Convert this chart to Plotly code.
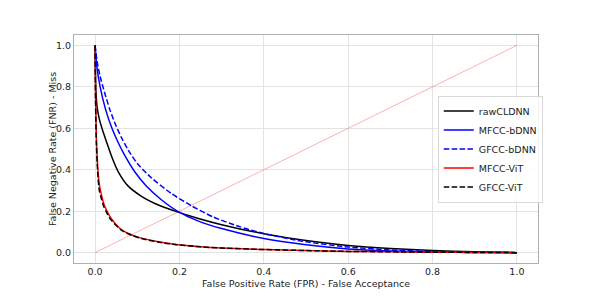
import plotly.graph_objects as go

# ---- data ----
raw_fpr = [0, 0.001, 0.002, 0.005, 0.010, 0.017, 0.027, 0.039, 0.055, 0.078, 0.11,
           0.15, 0.193, 0.245, 0.30, 0.40, 0.50, 0.60, 0.70, 0.80, 0.90, 1.0]
raw_fnr = [1.0, 0.86, 0.78, 0.70, 0.645, 0.595, 0.535, 0.465, 0.39, 0.322, 0.272,
           0.230, 0.198, 0.165, 0.135, 0.091, 0.058, 0.035, 0.020, 0.010, 0.004, 0.0]

mfcc_bdnn_fpr = [0, 0.004, 0.012, 0.025, 0.04, 0.055, 0.07, 0.094, 0.122, 0.157, 0.193,
                 0.245, 0.30, 0.40, 0.50, 0.60, 0.70, 0.80, 0.90, 1.0]
mfcc_bdnn_fnr = [1.0, 0.90, 0.80, 0.69, 0.60, 0.53, 0.47, 0.39, 0.32, 0.255, 0.203,
                 0.152, 0.116, 0.068, 0.038, 0.018, 0.008, 0.003, 0.001, 0.0]

gfcc_bdnn_fpr = [0, 0.005, 0.012, 0.02, 0.035, 0.05, 0.065, 0.08, 0.10, 0.134, 0.181,
                 0.229, 0.28, 0.34, 0.40, 0.50, 0.60, 0.70, 0.80, 0.90, 1.0]
gfcc_bdnn_fnr = [1.0, 0.92, 0.85, 0.79, 0.69, 0.61, 0.545, 0.49, 0.43, 0.36, 0.285,
                 0.225, 0.172, 0.127, 0.092, 0.052, 0.027, 0.013, 0.005, 0.002, 0.0]

vit_fpr = [0, 0.0005, 0.001, 0.002, 0.003, 0.005, 0.007, 0.010, 0.015, 0.020, 0.027, 0.035,
           0.047, 0.060, 0.070, 0.090, 0.110, 0.15, 0.189, 0.25, 0.30, 0.40, 0.50, 0.60,
           0.70, 0.80, 0.90, 1.0]
mfcc_vit_fnr = [1.0, 0.88, 0.78, 0.66, 0.56, 0.46, 0.39, 0.33, 0.28, 0.24, 0.205, 0.175,
                0.142, 0.115, 0.101, 0.083, 0.070, 0.052, 0.040, 0.028, 0.022, 0.015, 0.010,
                0.006, 0.004, 0.002, 0.001, 0.0]
gfcc_vit_fnr = [1.0, 0.85, 0.74, 0.62, 0.53, 0.43, 0.36, 0.30, 0.26, 0.225, 0.195, 0.165,
                0.137, 0.112, 0.099, 0.081, 0.068, 0.051, 0.039, 0.028, 0.022, 0.015, 0.010,
                0.006, 0.004, 0.002, 0.001, 0.0]

diag = [0.0, 1.0]
tick_vals = [0.0, 0.2, 0.4, 0.6, 0.8, 1.0]
tick_text = ["0.0", "0.2", "0.4", "0.6", "0.8", "1.0"]
x_title = "False Positive Rate (FPR) - False Acceptance"
y_title = "False Negative Rate (FNR) - Miss"

FONT = "DejaVu Sans"
FS = 9.5
TXT = "#222"

fig = go.Figure()
fig.add_trace(go.Scatter(x=diag, y=diag, mode="lines", showlegend=False, hoverinfo="skip",
                         line=dict(color="rgba(255,0,0,0.45)", width=0.7)))
fig.add_trace(go.Scatter(x=raw_fpr, y=raw_fnr, mode="lines", name="rawCLDNN",
                         line=dict(color="black", width=1.5, shape="spline", smoothing=0.6)))
fig.add_trace(go.Scatter(x=mfcc_bdnn_fpr, y=mfcc_bdnn_fnr, mode="lines", name="MFCC-bDNN",
                         line=dict(color="#0000ff", width=1.5, shape="spline", smoothing=0.6)))
fig.add_trace(go.Scatter(x=gfcc_bdnn_fpr, y=gfcc_bdnn_fnr, mode="lines", name="GFCC-bDNN",
                         line=dict(color="#0000ff", width=1.5, dash="5.5px,2.4px",
                                   shape="spline", smoothing=0.6)))
fig.add_trace(go.Scatter(x=vit_fpr, y=mfcc_vit_fnr, mode="lines", name="MFCC-ViT",
                         line=dict(color="#ff0000", width=1.5, shape="spline", smoothing=0.6)))
fig.add_trace(go.Scatter(x=vit_fpr, y=gfcc_vit_fnr, mode="lines", name="GFCC-ViT",
                         line=dict(color="black", width=1.5, dash="5.5px,2.4px",
                                   shape="spline", smoothing=0.6)))

axis_common = dict(
    showgrid=True, gridcolor="#e3e3e3", gridwidth=1, zeroline=False,
    showline=True, linecolor="#b0b0b0", linewidth=1, mirror=True,
    ticks="", tickvals=tick_vals, ticktext=tick_text, automargin=False,
    tickfont=dict(family=FONT, size=FS, color=TXT),
)

# the page body has an 8px default margin; size the figure so the plot lands where the reference has it
fig.update_layout(
    width=590, height=288,
    margin=dict(l=66, r=60, t=27, b=33, autoexpand=False),
    paper_bgcolor="white", plot_bgcolor="white",
    font=dict(family=FONT, size=FS, color=TXT),
    xaxis=dict(range=[-0.05, 1.05], **axis_common),
    yaxis=dict(range=[-0.05, 1.05], **axis_common),
    legend=dict(x=0.784, y=0.5, xanchor="left", yanchor="middle",
                bgcolor="rgba(255,255,255,0.85)", bordercolor="#d9d9d9", borderwidth=1,
                font=dict(family=FONT, size=FS, color=TXT)),
    annotations=[
        dict(text=x_title, xref="paper", yref="paper", x=0.5, y=0, xanchor="center",
             yanchor="top", yshift=-14, showarrow=False, borderpad=0,
             font=dict(family=FONT, size=FS, color=TXT)),
        dict(text=y_title, xref="paper", yref="paper", x=0, y=0.5, xanchor="center",
             yanchor="middle", xshift=-22, textangle=-90, showarrow=False,
             font=dict(family=FONT, size=FS, color=TXT)),
    ],
)

fig.write_html("out.html")
